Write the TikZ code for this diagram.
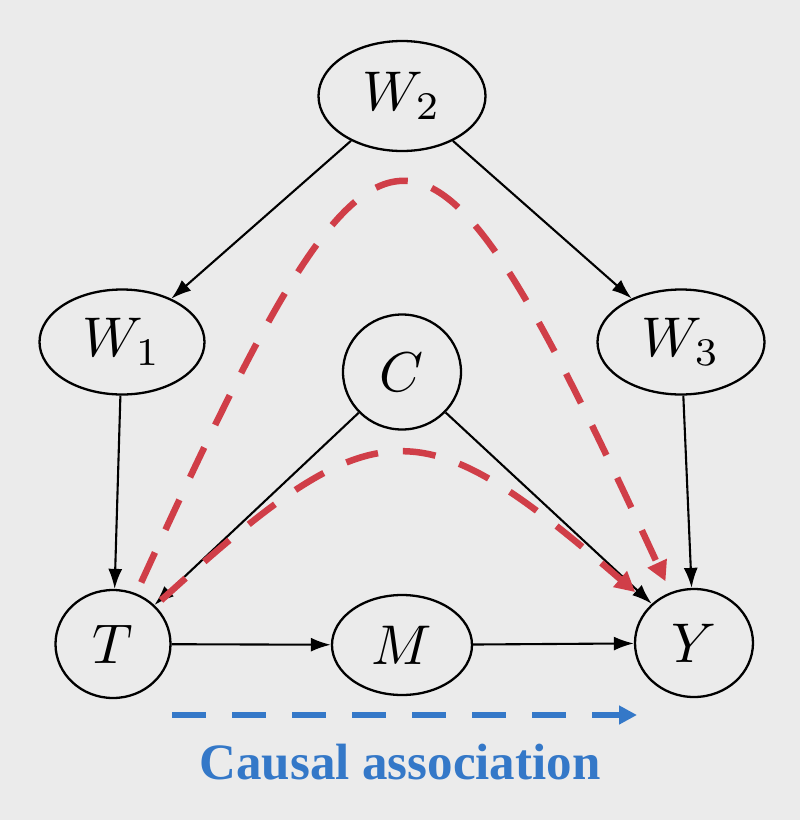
\documentclass[tikz,border=0pt]{standalone}
\usepackage{graphicx}
\usepackage[no-math]{fontspec}
\newfontfamily\capfont{Liberation Serif}
\usetikzlibrary{shapes.geometric,arrows.meta}
\definecolor{bgc}{RGB}{235,235,235}
\definecolor{redc}{RGB}{208,62,72}
\definecolor{bluec}{RGB}{52,120,200}
\newcommand{\bigmath}[1]{\scalebox{5.6}{\fontsize{10}{12}\selectfont$#1$}}
\tikzset{
  var/.style={ellipse, draw=black, line width=2.3pt, inner sep=0pt},
  edge/.style={line width=2.1pt, -{Latex[length=20pt,width=14pt]}},
  redpath/.style={draw=redc, line width=6.5pt, dash pattern=on 33pt off 25pt,
    -{Triangle[length=20pt,width=20pt]}},
  bluepath/.style={draw=bluec, line width=6.5pt, dash pattern=on 34pt off 26pt,
    -{Triangle[length=18pt,width=18pt]}},
}
\begin{document}
\begin{tikzpicture}[x=1pt,y=-1pt]
\fill[bgc] (0,0) rectangle (800,820);
\useasboundingbox (0,0) rectangle (800,820);
\node[var, minimum width=167pt, minimum height=110pt] (W2) at (402,96) {\bigmath{W_2}};
\node[var, minimum width=165pt, minimum height=105pt] (W1) at (122,342) {\bigmath{W_1}};
\node[var, minimum width=167pt, minimum height=105pt] (W3) at (681,342) {\bigmath{W_3}};
\node[var, minimum width=118pt, minimum height=115pt] (C) at (402,372) {\bigmath{C}};
\node[var, minimum width=115pt, minimum height=108pt] (T) at (113,644) {\bigmath{T}};
\node[var, minimum width=140pt, minimum height=100pt] (M) at (402,645) {\bigmath{M}};
\node[var, minimum width=118pt, minimum height=108pt] (Y) at (694,643) {\bigmath{Y}};
\draw[edge] (W2) -- (W1);
\draw[edge] (W2) -- (W3);
\draw[edge] (W1) -- (T);
\draw[edge] (W3) -- (Y);
\draw[edge] (C) -- (T);
\draw[edge] (C) -- (Y);
\draw[edge] (T) -- (M);
\draw[edge] (M) -- (Y);
\draw[redpath, shorten <=12pt, shorten >=12pt] (T) .. controls (385,50) and (420,50) .. (Y);
\draw[redpath, shorten <=8pt, shorten >=20pt] (T) .. controls (376,405) and (419,405) .. (Y);
\coordinate (ca1) at (172,715);
\coordinate (ca2) at (637,715);
\draw[bluepath] (ca1) -- (ca2);
\node[text=bluec, font=\capfont\bfseries\fontsize{51}{56}\selectfont, anchor=base] (lab) at (400,779) {Causal association};
\end{tikzpicture}
\end{document}
